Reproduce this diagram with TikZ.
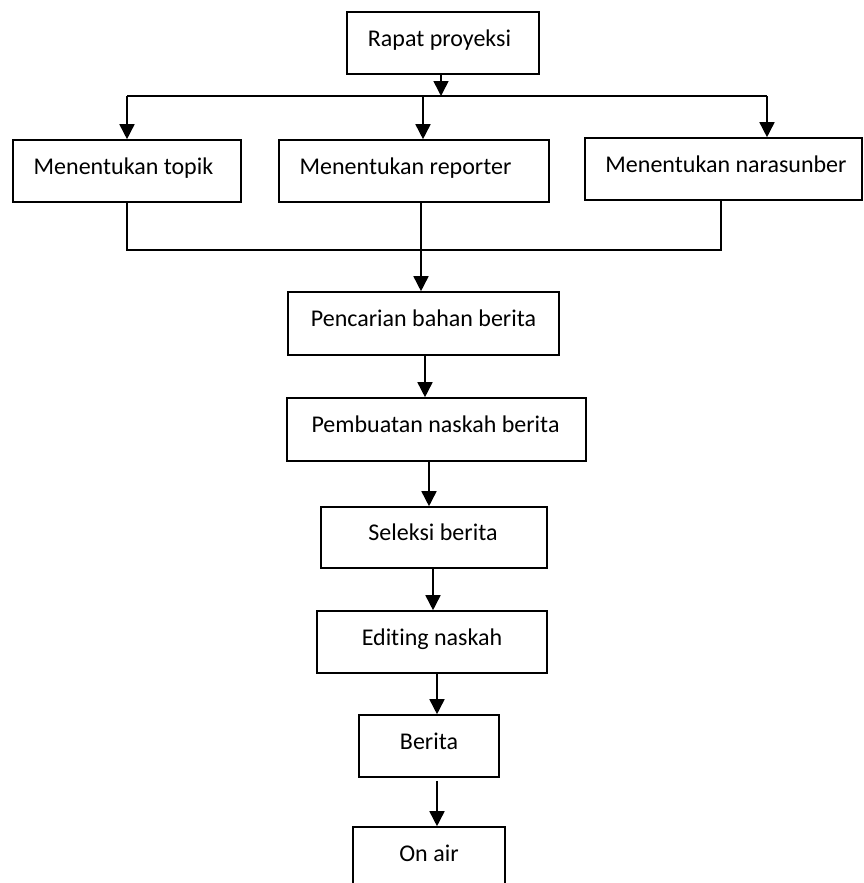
\documentclass[tikz,border=0pt]{standalone}
\usepackage{fontspec}
\setmainfont{Carlito}[Ligatures=NoCommon]
\usetikzlibrary{arrows.meta}
\begin{document}
\begin{tikzpicture}[x=1pt,y=-1pt,
  box/.style={draw=black, line width=1.6pt, minimum height=62pt, inner sep=0pt},
  lbl/.style={anchor=base, font=\fontsize{24pt}{28pt}\selectfont, inner sep=0pt},
  conn/.style={line width=1.6pt},
  arr/.style={conn, -{Triangle[width=15pt,length=15pt]}}]
\useasboundingbox (0,0) rectangle (863,883);

% boxes
\node[box, minimum width=192pt] (rapat) at (443,43) {};
\node[box, minimum width=228pt] (topik) at (127,171) {};
\node[box, minimum width=270pt] (reporter) at (414,171) {};
\node[box, minimum width=277pt] (narasumber) at (723.5,169) {};
\node[box, minimum width=271pt, minimum height=63pt] (pencarian) at (423.5,323.5) {};
\node[box, minimum width=299pt, minimum height=63pt] (pembuatan) at (436.5,429.5) {};
\node[box, minimum width=226pt, minimum height=61pt] (seleksi) at (434,537.5) {};
\node[box, minimum width=230pt] (editing) at (432,642) {};
\node[box, minimum width=140pt] (berita) at (429,746) {};
\node[box, minimum width=152pt] (onair) at (429,858) {};

% texts
\node[lbl] (rapatT) at ([xshift=-3.5pt,yshift=-3.3pt]rapat.center) {Rapat proyeksi};
\node[lbl] (topikT) at ([xshift=-3.5pt,yshift=-3.3pt]topik.center) {Menentukan topik};
\node[lbl] (reporterT) at ([xshift=-8.5pt,yshift=-3.3pt]reporter.center) {Menentukan reporter};
\node[lbl] (narasumberT) at ([xshift=2.5pt,yshift=-3.3pt]narasumber.center) {Menentukan narasunber};
\node[lbl] (pencarianT) at ([yshift=-3.3pt]pencarian.center) {Pencarian bahan berita};
\node[lbl] (pembuatanT) at ([xshift=-1pt,yshift=-3.3pt]pembuatan.center) {Pembuatan naskah berita};
\node[lbl] (seleksiT) at ([xshift=-1pt,yshift=-3.3pt]seleksi.center) {Seleksi berita};
\node[lbl] (editingT) at ([yshift=-3.3pt]editing.center) {Editing naskah};
\node[lbl] (beritaT) at ([yshift=-3.3pt]berita.center) {Berita};
\node[lbl] (onairT) at ([yshift=-3.3pt]onair.center) {On air};

% top branching
\coordinate (b1) at (441,96);
\coordinate (bL) at (127,96);
\coordinate (bM) at (423,96);
\coordinate (bR) at (767,96);
\draw[arr] (rapat.south -| b1) -- (b1);
\draw[conn] (bL) -- (bR);
\draw[arr] (bL) -- (bL |- topik.north);
\draw[arr] (bM) -- (bM |- reporter.north);
\draw[arr] (bR) -- (bR |- narasumber.north);

% joining
\coordinate (jL) at (127,250);
\coordinate (jM) at (421,250);
\coordinate (jR) at (721,250);
\draw[conn] (topik.south -| jL) -- (jL) -- (jR) -- (jR |- narasumber.south);
\draw[arr] (jM |- reporter.south) -- (jM |- pencarian.north);

% chain
\coordinate (c1) at (425,0);
\coordinate (c2) at (429,0);
\coordinate (c3) at (433,0);
\coordinate (c4) at (437,0);
\draw[arr] (pencarian.south -| c1) -- (pembuatan.north -| c1);
\draw[arr] (pembuatan.south -| c2) -- (seleksi.north -| c2);
\draw[arr] (seleksi.south -| c3) -- (editing.north -| c3);
\draw[arr] (editing.south -| c4) -- (berita.north -| c4);
\draw[arr] ([yshift=-3pt]berita.south -| c4) -- (onair.north -| c4);
\end{tikzpicture}
\end{document}
